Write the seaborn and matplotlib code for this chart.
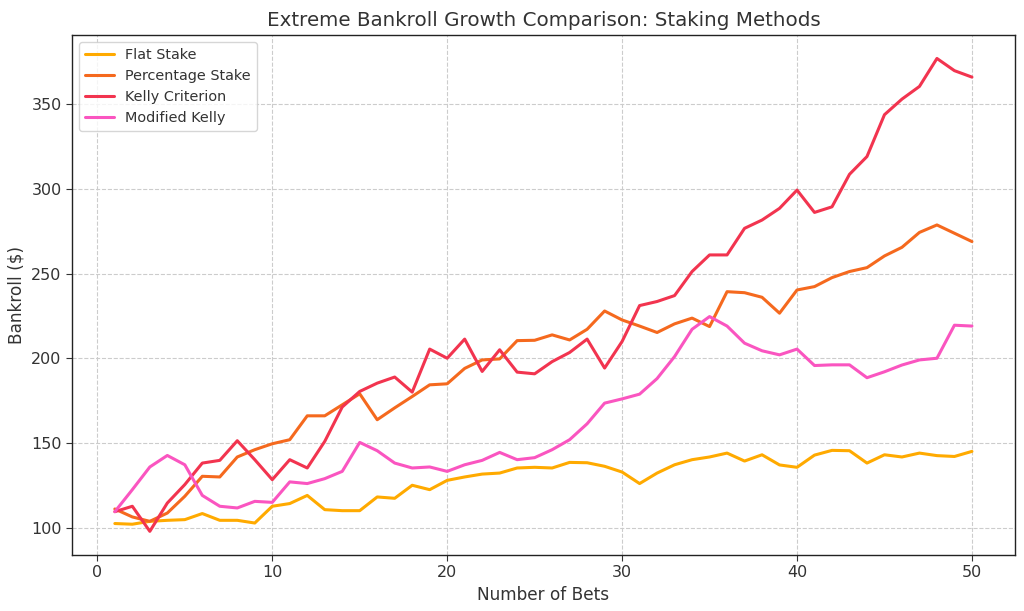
import numpy as np
import pandas as pd
import matplotlib
matplotlib.use("Agg")
import matplotlib.pyplot as plt
import seaborn as sns

# Werte
bets = list(range(1, 51))

flat_stake = [102.4, 102.0, 103.7, 104.3, 104.7, 108.3, 104.3, 104.3, 102.7, 112.6,
              114.2, 119.0, 110.6, 110.0, 110.0, 118.1, 117.3, 125.0, 122.4, 127.9,
              129.9, 131.6, 132.2, 135.2, 135.6, 135.2, 138.5, 138.3, 136.2, 132.8,
              126.0, 132.2, 137.1, 140.1, 141.7, 144.0, 139.3, 143.0, 137.0, 135.6,
              142.8, 145.6, 145.4, 138.1, 143.0, 141.7, 144.0, 142.5, 142.0, 145.0]

percentage_stake = [111.0, 106.3, 103.7, 108.6, 118.5, 130.3, 129.9, 141.7, 146.0, 149.5,
                    151.9, 166.0, 166.0, 172.5, 179.0, 163.7, 170.7, 177.4, 184.3, 184.9,
                    194.0, 199.0, 199.6, 210.4, 210.6, 213.8, 210.8, 217.1, 227.9, 222.6,
                    219.0, 215.2, 220.3, 223.7, 218.7, 239.3, 238.7, 236.0, 226.6, 240.3,
                    242.3, 247.6, 251.2, 253.5, 260.4, 265.5, 274.3, 278.7, 273.8, 268.9]

kelly = [109.4, 112.6, 97.8, 114.5, 125.4, 138.1, 139.7, 151.3, 140.1, 128.3,
         140.1, 135.2, 150.9, 171.2, 180.4, 185.3, 188.9, 180.0, 205.4, 200.0,
         211.3, 192.2, 205.0, 191.8, 190.8, 198.0, 203.4, 211.3, 194.2, 209.9,
         231.1, 233.5, 237.0, 251.2, 261.0, 261.0, 276.7, 281.6, 288.5, 299.3,
         286.1, 289.4, 308.6, 319.1, 343.8, 353.0, 360.5, 377.0, 369.8, 366.0]

modified_kelly = [109.4, 122.4, 135.8, 142.6, 137.1, 119.0, 112.6, 111.6, 115.5, 114.9,
                  127.0, 126.0, 128.9, 133.2, 150.3, 145.4, 138.1, 135.2, 135.8, 133.2,
                  137.1, 139.7, 144.4, 140.1, 141.3, 146.0, 151.9, 161.3, 173.5, 176.0,
                  178.8, 188.0, 201.0, 217.1, 224.6, 219.0, 208.9, 204.4, 202.0, 205.4,
                  195.7, 196.1, 196.1, 188.5, 192.0, 196.0, 199.0, 200.0, 219.5, 219.0]

methods = ["Flat Stake", "Percentage Stake", "Kelly Criterion", "Modified Kelly"]
colors = ["#FFAA00", "#F5691E", "#F2344F", "#FA55C0"]

df = pd.DataFrame({
    "Bet": bets * 4,
    "Bankroll": flat_stake + percentage_stake + kelly + modified_kelly,
    "Method": sum([[m] * len(bets) for m in methods], []),
})

sns.set_style("white")
plt.rcParams["font.family"] = ["DejaVu Sans"]

fig = plt.figure(figsize=(10.24, 6.11), dpi=100)
ax = fig.add_axes([0.0703, 0.0917, 0.9207, 0.8513])

sns.lineplot(data=df, x="Bet", y="Bankroll", hue="Method", hue_order=methods,
             palette=colors, linewidth=2.2, ax=ax)

ax.set_title("Extreme Bankroll Growth Comparison: Staking Methods", fontsize=14.3, color="#333333")
ax.set_xlabel("Number of Bets", fontsize=12.2, color="#333333")
ax.set_ylabel("Bankroll ($)", fontsize=12.2, color="#333333")
ax.tick_params(labelsize=11.5, colors="#333333", length=4, left=True, bottom=True)
ax.set_xticks([0, 10, 20, 30, 40, 50])
ax.grid(True, linestyle="--", color="#cccccc", linewidth=0.8)
for s in ax.spines.values():
    s.set_color("#222222")
    s.set_linewidth(1.0)

leg = ax.legend(loc="upper left", fontsize=10.4, frameon=True)
leg.get_frame().set_edgecolor("#cccccc")
for t in leg.get_texts():
    t.set_color("#333333")

fig.savefig("out.png", dpi=100)
